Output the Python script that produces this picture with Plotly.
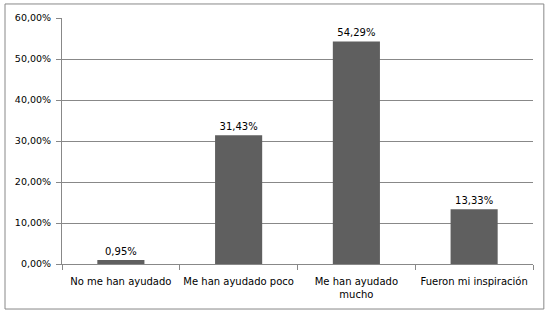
import plotly.graph_objects as go

categories = ["No me han ayudado", "Me han ayudado poco", "Me han ayudado<br>mucho", "Fueron mi inspiración"]
values = [0.95, 31.43, 54.29, 13.33]
y_ticks = [0, 10, 20, 30, 40, 50, 60]
y_tick_labels = ["0,00%", "10,00%", "20,00%", "30,00%", "40,00%", "50,00%", "60,00%"]

fig = go.Figure()
fig.add_trace(go.Bar(
    x=categories, y=values,
    marker=dict(color="#5f5f5f", line=dict(color="#5f5f5f", width=0)),
    width=0.4,
    texttemplate="%{y:.2f}%", textposition="outside",
    textfont=dict(size=10, color="#000000"),
    cliponaxis=False,
    hoverinfo="skip",
))

grid = "#888888"
fig.update_layout(
    width=552, height=316,
    margin=dict(l=62, r=19, t=18, b=52, autoexpand=False),
    paper_bgcolor="white", plot_bgcolor="white",
    separators=",.",
    font=dict(family="DejaVu Sans", size=10, color="#000000"),
    showlegend=False,
    bargap=0.6,
    xaxis=dict(
        showline=True, linecolor=grid, linewidth=1,
        ticks="outside", tickcolor=grid, ticklen=5,
        tickson="boundaries",
        showgrid=False,
        tickangle=0, automargin=False,
        ticklabelstandoff=8,
        tickfont=dict(size=10),
    ),
    yaxis=dict(
        range=[0, 60], tickvals=y_ticks, ticktext=y_tick_labels,
        showline=True, linecolor=grid, linewidth=1,
        ticks="outside", tickcolor=grid, ticklen=5,
        showgrid=True, gridcolor=grid, gridwidth=1,
        zeroline=False, automargin=False,
        ticklabelstandoff=3,
        tickfont=dict(size=9.5),
    ),
    shapes=[dict(
        type="rect", xref="paper", yref="paper",
        x0=-0.121, x1=1.023, y0=-0.183, y1=1.057,
        line=dict(color="#888888", width=1),
    )],
)

fig.write_html("out.html", config={"displayModeBar": False},
               post_script="document.body.style.margin='0px';")
